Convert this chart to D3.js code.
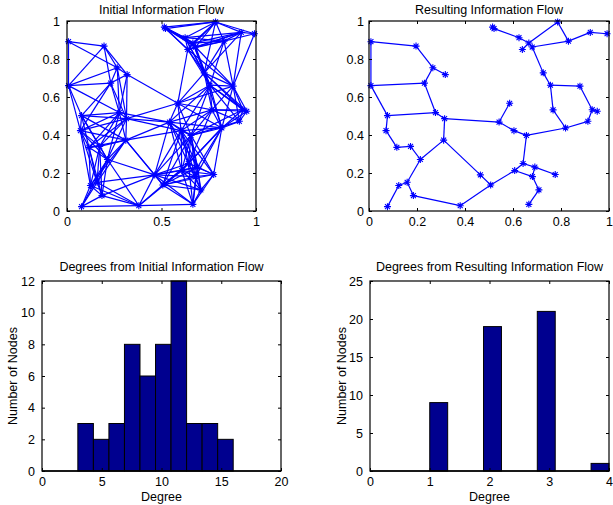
<!DOCTYPE html>
<html>
<head>
<meta charset="utf-8">
<script src="https://cdn.jsdelivr.net/npm/d3@7"></script>
<style>
body { margin: 0; background: #fff; }
svg text { font-family: "Liberation Sans", Arial, Helvetica, sans-serif; font-size: 12.5px; fill: #000; }
</style>
</head>
<body>
<svg id="fig" width="613" height="505"></svg>
<script>
// sensor positions, shared by both network plots
const nodeX = [0.008, 0.196, 0.266, 0.318, 0.008, 0.231, 0.077, 0.277, 0.315, 0.071,
               0.116, 0.173, 0.214, 0.311, 0.124, 0.159, 0.185, 0.077, 0.380, 0.464,
               0.507, 0.542, 0.586, 0.604, 0.656, 0.607, 0.642, 0.691, 0.681, 0.708,
               0.666, 0.776, 0.515, 0.521, 0.625, 0.639, 0.666, 0.680, 0.786, 0.831,
               0.922, 0.992, 0.726, 0.756, 0.879, 0.767, 0.930, 0.951, 0.912, 0.819];
const nodeY = [0.891, 0.868, 0.754, 0.718, 0.660, 0.673, 0.502, 0.518, 0.486, 0.423,
               0.335, 0.340, 0.271, 0.373, 0.134, 0.151, 0.081, 0.023, 0.028, 0.190,
               0.137, 0.468, 0.567, 0.423, 0.398, 0.213, 0.250, 0.231, 0.181, 0.111,
               0.035, 0.192, 0.968, 0.960, 0.912, 0.850, 0.884, 0.863, 0.995, 0.894,
               0.940, 0.933, 0.727, 0.662, 0.657, 0.532, 0.533, 0.525, 0.472, 0.437];

// links that survive in the resulting flow (pairs of node indices)
const resultLinks = [
  [0, 1], [0, 4], [1, 2], [2, 3], [2, 5], [4, 5], [4, 6], [5, 7], [6, 7], [6, 9],
  [7, 8], [8, 21], [8, 13], [9, 10], [10, 11], [11, 12], [12, 13], [12, 15], [13, 19], [19, 20],
  [14, 15], [14, 17], [15, 16], [16, 18], [18, 20], [20, 25], [21, 22], [21, 23], [23, 24], [24, 26],
  [24, 49], [25, 26], [25, 28], [26, 27], [27, 28], [27, 31], [28, 29], [29, 30],
  [46, 47], [46, 48], [46, 44], [44, 43], [43, 42], [43, 45], [45, 49], [49, 48],
  [42, 37], [37, 36], [36, 34], [34, 33], [33, 32], [36, 35], [36, 38], [37, 39], [38, 39], [39, 40], [40, 41]
];

// every pair closer than the radio range talks in the initial flow
const linkRange = 0.31;

const unitTicks = [0, 0.2, 0.4, 0.6, 0.8, 1];
const halfTicks = [0, 0.5, 1];

const initialBinEdges = [3, 4.3, 5.6, 6.9, 8.2, 9.5, 10.8, 12.1, 13.4, 14.7, 16];
const initialCounts = [3, 2, 3, 8, 6, 8, 12, 3, 3, 2];
const initialDegreeTicks = [0, 5, 10, 15, 20];
const initialCountTicks = [0, 2, 4, 6, 8, 10, 12];

const resultBinEdges = [1, 1.3, 1.6, 1.9, 2.2, 2.5, 2.8, 3.1, 3.4, 3.7, 4];
const resultCounts = [9, 0, 0, 19, 0, 0, 21, 0, 0, 1];
const resultDegreeTicks = [0, 1, 2, 3, 4];
const resultCountTicks = [0, 5, 10, 15, 20, 25];

const svg = d3.select("#fig");
const blue = "#0000ff";
const tickLen = 3;
const fmt = d3.format("~g");

const nodes = nodeX.map((x, i) => ({ x: x, y: nodeY[i] }));
const initialLinks = [];
for (let i = 0; i < nodes.length; i++) {
  for (let j = i + 1; j < nodes.length; j++) {
    if (Math.hypot(nodes[i].x - nodes[j].x, nodes[i].y - nodes[j].y) <= linkRange) {
      initialLinks.push([i, j]);
    }
  }
}

// matlab style '*' marker
const asterisk = {
  draw(ctx, size) {
    const r = Math.sqrt(size) / 2;
    const d = r * Math.SQRT1_2;
    ctx.moveTo(-r, 0); ctx.lineTo(r, 0);
    ctx.moveTo(0, -r); ctx.lineTo(0, r);
    ctx.moveTo(-d, -d); ctx.lineTo(d, d);
    ctx.moveTo(-d, d); ctx.lineTo(d, -d);
  }
};

function makePanel(box, xDomain, yDomain) {
  const w = box.right - box.left, h = box.bottom - box.top;
  const g = svg.append("g").attr("transform", `translate(${box.left},${box.top})`);
  return {
    g: g, w: w, h: h,
    x: d3.scaleLinear().domain(xDomain).range([0, w]),
    y: d3.scaleLinear().domain(yDomain).range([h, 0])
  };
}

function drawFrame(p, opts) {
  const g = p.g;
  const styleAxis = sel => {
    sel.select(".domain").remove();
    sel.selectAll(".tick line").attr("stroke", "#000");
    sel.selectAll("text").attr("font-size", null).attr("font-family", null);
  };
  g.append("g").attr("transform", `translate(0,${p.h})`)
    .call(d3.axisBottom(p.x).tickValues(opts.xTicks).tickFormat(fmt)
      .tickSize(-tickLen).tickPadding(opts.padX)).call(styleAxis);
  g.append("g")
    .call(d3.axisTop(p.x).tickValues(opts.xTicks).tickFormat("")
      .tickSize(-tickLen)).call(styleAxis);
  g.append("g")
    .call(d3.axisLeft(p.y).tickValues(opts.yTicks).tickFormat(fmt)
      .tickSize(-tickLen).tickPadding(opts.padY)).call(styleAxis);
  g.append("g").attr("transform", `translate(${p.w},0)`)
    .call(d3.axisRight(p.y).tickValues(opts.yTicks).tickFormat("")
      .tickSize(-tickLen)).call(styleAxis);
  g.append("rect").attr("width", p.w).attr("height", p.h)
    .attr("fill", "none").attr("stroke", "#000").attr("stroke-width", 1.2);

  g.append("text").attr("x", p.w / 2).attr("y", opts.titleY)
    .attr("text-anchor", "middle").text(opts.title);
  if (opts.xLabel) {
    g.append("text").attr("x", p.w / 2).attr("y", p.h + 30)
      .attr("text-anchor", "middle").text(opts.xLabel);
  }
  if (opts.yLabel) {
    g.append("text").attr("transform", `translate(${opts.yLabelX},${p.h / 2}) rotate(-90)`)
      .attr("text-anchor", "middle").text(opts.yLabel);
  }
}

function drawNetwork(box, links) {
  const p = makePanel(box, [0, 1], [0, 1]);
  p.g.append("g").selectAll("line").data(links).join("line")
    .attr("x1", d => p.x(nodes[d[0]].x)).attr("y1", d => p.y(nodes[d[0]].y))
    .attr("x2", d => p.x(nodes[d[1]].x)).attr("y2", d => p.y(nodes[d[1]].y))
    .attr("stroke", blue).attr("stroke-width", 1.2);
  p.g.append("g").selectAll("path").data(nodes).join("path")
    .attr("transform", d => `translate(${p.x(d.x)},${p.y(d.y)})`)
    .attr("d", d3.symbol(asterisk, 49))
    .attr("fill", "none").attr("stroke", blue).attr("stroke-width", 1.1);
  return p;
}

function drawHistogram(box, edges, counts, xDomain, yDomain, title, xTicks, yTicks, yLabelX) {
  const p = makePanel(box, xDomain, yDomain);
  p.g.append("g").selectAll("rect").data(counts).join("rect")
    .attr("x", (d, i) => p.x(edges[i]))
    .attr("width", (d, i) => p.x(edges[i + 1]) - p.x(edges[i]))
    .attr("y", d => p.y(d))
    .attr("height", d => p.h - p.y(d))
    .attr("fill", "#00008f").attr("stroke", "#000").attr("stroke-width", 1);
  p.g.append("line").attr("x1", 0).attr("x2", p.w)
    .attr("y1", p.y(0)).attr("y2", p.y(0))
    .attr("stroke", "#000").attr("stroke-width", 1.5);
  drawFrame(p, { xTicks: xTicks, yTicks: yTicks, padX: 6, padY: 7, title: title, titleY: -10,
    xLabel: "Degree", yLabel: "Number of Nodes", yLabelX: yLabelX });
}

const tl = drawNetwork({ left: 67, right: 256, top: 21, bottom: 211 }, initialLinks);
drawFrame(tl, { xTicks: halfTicks, yTicks: unitTicks, padX: 6, padY: 7,
  title: "Initial Information Flow", titleY: -7 });

const tr = drawNetwork({ left: 369, right: 609, top: 21, bottom: 211 }, resultLinks);
drawFrame(tr, { xTicks: unitTicks, yTicks: unitTicks, padX: 6, padY: 5,
  title: "Resulting Information Flow", titleY: -7 });

drawHistogram({ left: 42, right: 281, top: 281, bottom: 471 }, initialBinEdges, initialCounts,
  [0, 20], [0, 12], "Degrees from Initial Information Flow",
  initialDegreeTicks, initialCountTicks, -25);

drawHistogram({ left: 370, right: 609, top: 281, bottom: 471 }, resultBinEdges, resultCounts,
  [0, 4], [0, 25], "Degrees from Resulting Information Flow",
  resultDegreeTicks, resultCountTicks, -24);
</script>
</body>
</html>
